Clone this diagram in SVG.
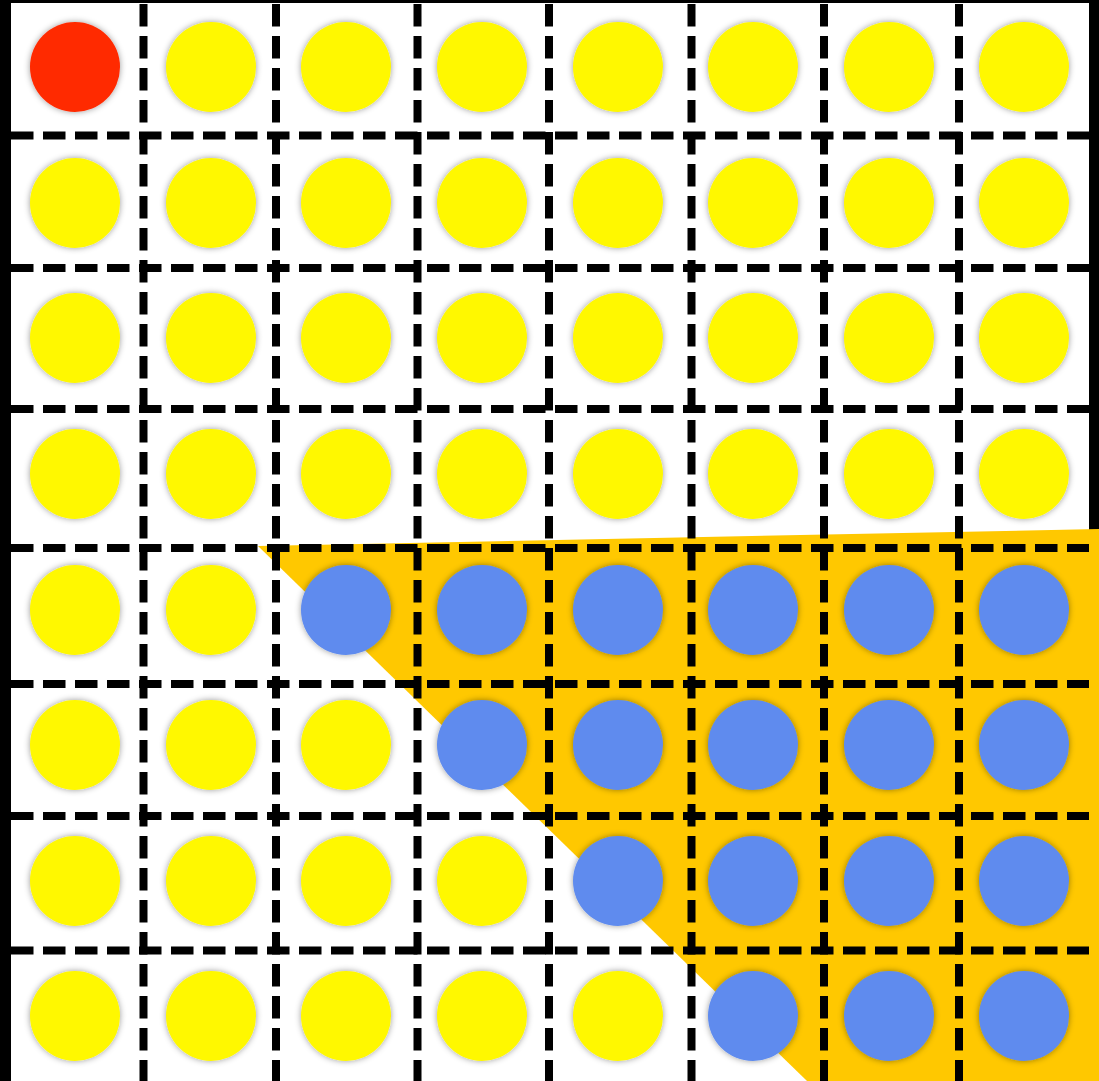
<svg xmlns="http://www.w3.org/2000/svg" width="1099" height="1081" viewBox="0 0 1099 1081">
<style>
.g{stroke:#000;stroke-width:8;fill:none}
.v{stroke-dasharray:22.5 9.5}
.h{stroke-dasharray:22.5 9.5}
.y{fill:#FFF800;filter:url(#sh)}
.b{fill:#5E8BEE;filter:url(#sh)}
.r{fill:#FF2A00;filter:url(#sh)}
</style>
<defs>
<filter id="sh" x="-30%" y="-30%" width="160%" height="160%">
<feDropShadow dx="0" dy="0" stdDeviation="3" flood-color="#000" flood-opacity="0.4"/>
</filter>
</defs>
<rect x="0" y="0" width="1099" height="1081" fill="#000"/>
<rect x="11" y="3" width="1078" height="1078" fill="#fff"/>
<polygon points="258,546 1099,529 1099,1081 807,1081" fill="#FFC800"/>
<g id="connectors" class="g">
<line class="v" x1="143.5" y1="4" x2="143.5" y2="1081"/>
<line class="v" x1="276" y1="4" x2="276" y2="1081"/>
<line class="v" x1="417.5" y1="4" x2="417.5" y2="1081"/>
<line class="v" x1="549" y1="4" x2="549" y2="1081"/>
<line class="v" x1="691.5" y1="4" x2="691.5" y2="1081"/>
<line class="v" x1="824" y1="4" x2="824" y2="1081"/>
<line class="v" x1="959" y1="4" x2="959" y2="1081"/>
<line class="h" x1="11" y1="135.5" x2="1089" y2="135.5"/>
<line class="h" x1="11" y1="268" x2="1089" y2="268"/>
<line class="h" x1="11" y1="409" x2="1089" y2="409"/>
<line class="h" x1="11" y1="548" x2="1089" y2="548"/>
<line class="h" x1="11" y1="684" x2="1089" y2="684"/>
<line class="h" x1="11" y1="816" x2="1089" y2="816"/>
<line class="h" x1="11" y1="950.5" x2="1089" y2="950.5"/>
</g>
<g id="r0">
<g id="n0_0"><circle class="r" cx="75" cy="67" r="45"/></g>
<g id="n0_1"><circle class="y" cx="211" cy="67" r="45"/></g>
<g id="n0_2"><circle class="y" cx="346" cy="67" r="45"/></g>
<g id="n0_3"><circle class="y" cx="482" cy="67" r="45"/></g>
<g id="n0_4"><circle class="y" cx="618" cy="67" r="45"/></g>
<g id="n0_5"><circle class="y" cx="753" cy="67" r="45"/></g>
<g id="n0_6"><circle class="y" cx="889" cy="67" r="45"/></g>
<g id="n0_7"><circle class="y" cx="1024" cy="67" r="45"/></g>
</g>
<g id="r1">
<g id="n1_0"><circle class="y" cx="75" cy="203" r="45"/></g>
<g id="n1_1"><circle class="y" cx="211" cy="203" r="45"/></g>
<g id="n1_2"><circle class="y" cx="346" cy="203" r="45"/></g>
<g id="n1_3"><circle class="y" cx="482" cy="203" r="45"/></g>
<g id="n1_4"><circle class="y" cx="618" cy="203" r="45"/></g>
<g id="n1_5"><circle class="y" cx="753" cy="203" r="45"/></g>
<g id="n1_6"><circle class="y" cx="889" cy="203" r="45"/></g>
<g id="n1_7"><circle class="y" cx="1024" cy="203" r="45"/></g>
</g>
<g id="r2">
<g id="n2_0"><circle class="y" cx="75" cy="338" r="45"/></g>
<g id="n2_1"><circle class="y" cx="211" cy="338" r="45"/></g>
<g id="n2_2"><circle class="y" cx="346" cy="338" r="45"/></g>
<g id="n2_3"><circle class="y" cx="482" cy="338" r="45"/></g>
<g id="n2_4"><circle class="y" cx="618" cy="338" r="45"/></g>
<g id="n2_5"><circle class="y" cx="753" cy="338" r="45"/></g>
<g id="n2_6"><circle class="y" cx="889" cy="338" r="45"/></g>
<g id="n2_7"><circle class="y" cx="1024" cy="338" r="45"/></g>
</g>
<g id="r3">
<g id="n3_0"><circle class="y" cx="75" cy="474" r="45"/></g>
<g id="n3_1"><circle class="y" cx="211" cy="474" r="45"/></g>
<g id="n3_2"><circle class="y" cx="346" cy="474" r="45"/></g>
<g id="n3_3"><circle class="y" cx="482" cy="474" r="45"/></g>
<g id="n3_4"><circle class="y" cx="618" cy="474" r="45"/></g>
<g id="n3_5"><circle class="y" cx="753" cy="474" r="45"/></g>
<g id="n3_6"><circle class="y" cx="889" cy="474" r="45"/></g>
<g id="n3_7"><circle class="y" cx="1024" cy="474" r="45"/></g>
</g>
<g id="r4">
<g id="n4_0"><circle class="y" cx="75" cy="610" r="45"/></g>
<g id="n4_1"><circle class="y" cx="211" cy="610" r="45"/></g>
<g id="n4_2"><circle class="b" cx="346" cy="610" r="45"/></g>
<g id="n4_3"><circle class="b" cx="482" cy="610" r="45"/></g>
<g id="n4_4"><circle class="b" cx="618" cy="610" r="45"/></g>
<g id="n4_5"><circle class="b" cx="753" cy="610" r="45"/></g>
<g id="n4_6"><circle class="b" cx="889" cy="610" r="45"/></g>
<g id="n4_7"><circle class="b" cx="1024" cy="610" r="45"/></g>
</g>
<g id="r5">
<g id="n5_0"><circle class="y" cx="75" cy="745" r="45"/></g>
<g id="n5_1"><circle class="y" cx="211" cy="745" r="45"/></g>
<g id="n5_2"><circle class="y" cx="346" cy="745" r="45"/></g>
<g id="n5_3"><circle class="b" cx="482" cy="745" r="45"/></g>
<g id="n5_4"><circle class="b" cx="618" cy="745" r="45"/></g>
<g id="n5_5"><circle class="b" cx="753" cy="745" r="45"/></g>
<g id="n5_6"><circle class="b" cx="889" cy="745" r="45"/></g>
<g id="n5_7"><circle class="b" cx="1024" cy="745" r="45"/></g>
</g>
<g id="r6">
<g id="n6_0"><circle class="y" cx="75" cy="881" r="45"/></g>
<g id="n6_1"><circle class="y" cx="211" cy="881" r="45"/></g>
<g id="n6_2"><circle class="y" cx="346" cy="881" r="45"/></g>
<g id="n6_3"><circle class="y" cx="482" cy="881" r="45"/></g>
<g id="n6_4"><circle class="b" cx="618" cy="881" r="45"/></g>
<g id="n6_5"><circle class="b" cx="753" cy="881" r="45"/></g>
<g id="n6_6"><circle class="b" cx="889" cy="881" r="45"/></g>
<g id="n6_7"><circle class="b" cx="1024" cy="881" r="45"/></g>
</g>
<g id="r7">
<g id="n7_0"><circle class="y" cx="75" cy="1016" r="45"/></g>
<g id="n7_1"><circle class="y" cx="211" cy="1016" r="45"/></g>
<g id="n7_2"><circle class="y" cx="346" cy="1016" r="45"/></g>
<g id="n7_3"><circle class="y" cx="482" cy="1016" r="45"/></g>
<g id="n7_4"><circle class="y" cx="618" cy="1016" r="45"/></g>
<g id="n7_5"><circle class="b" cx="753" cy="1016" r="45"/></g>
<g id="n7_6"><circle class="b" cx="889" cy="1016" r="45"/></g>
<g id="n7_7"><circle class="b" cx="1024" cy="1016" r="45"/></g>
</g>
</svg>
